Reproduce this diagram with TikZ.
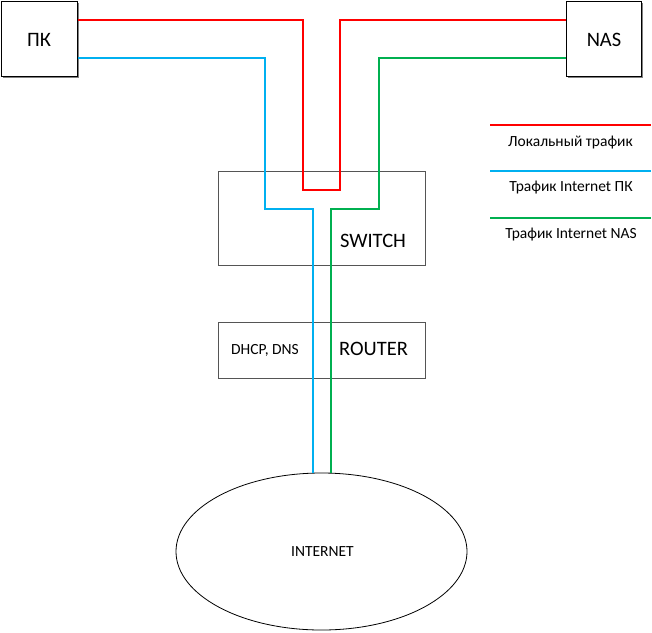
\documentclass[tikz,border=0pt]{standalone}
\usepackage{fontspec}
\setmainfont{Carlito}
\usetikzlibrary{shapes.geometric,shadows}
\definecolor{lred}{HTML}{FF0000}
\definecolor{lblue}{HTML}{00B0F0}
\definecolor{lgreen}{HTML}{00B050}
\definecolor{boxgray}{HTML}{555555}
\tikzset{
  endbox/.style={draw=black,line width=1pt,fill=white,anchor=north west,inner sep=0pt,
    drop shadow={shadow xshift=1.3pt,shadow yshift=-1.3pt,fill=gray,opacity=1}},
  devbox/.style={draw=boxgray,line width=1pt,anchor=north west,inner sep=0pt},
  bigtxt/.style={font=\fontsize{20.5}{24}\selectfont,inner sep=0pt,anchor=base},
  smalltxt/.style={font=\fontsize{15.5}{18}\selectfont,inner sep=0pt,anchor=base},
  wire/.style={line width=2pt},
}
\begin{document}
\begin{tikzpicture}[x=1pt,y=-1pt]
\useasboundingbox (0,0) rectangle (652,632);
% boxes
\node[endbox,minimum width=76pt,minimum height=75pt] (pk) at (1,1) {};
\node[endbox,minimum width=75pt,minimum height=75pt] (nas) at (566,1) {};
\node[devbox,minimum width=207pt,minimum height=94pt] (switch) at (218,171) {};
\node[devbox,minimum width=207pt,minimum height=56pt] (router) at (218,322) {};
\node[draw=black,line width=0.8pt,ellipse,minimum width=291pt,minimum height=157pt,inner sep=0pt] (internet) at (321.5,551.5) {};
% labels
\node[bigtxt] (pklabel) at (39,46.5) {ПК};
\node[bigtxt] (naslabel) at (604,46.5) {NAS};
\node[bigtxt] (switchlabel) at (373,247.5) {SWITCH};
\node[bigtxt] (routerlabel) at (373.5,355.5) {ROUTER};
\node[smalltxt] (dhcplabel) at (265,354.5) {DHCP, DNS};
\node[smalltxt] (internetlabel) at (322.5,556) {INTERNET};
% wires
\draw[wire,lred] (pk.east |- 0,20) -| (302.5,190) -| (340,20) -- (nas.west |- 0,20);
\draw[wire,lblue] (pk.east |- 0,57.5) -| (265,209) -| (312.5,0 |- internet.north);
\draw[wire,lgreen] (nas.west |- 0,57.5) -| (378.5,209) -| (330.5,0 |- internet.north);
% legend
\coordinate (lr1) at (490,125); \coordinate (lr2) at (651,125);
\coordinate (lb1) at (490,171); \coordinate (lb2) at (651,171);
\coordinate (lg1) at (490,217.5); \coordinate (lg2) at (651,217.5);
\draw[wire,lred] (lr1) -- (lr2);
\draw[wire,lblue] (lb1) -- (lb2);
\draw[wire,lgreen] (lg1) -- (lg2);
\node[smalltxt] (legr) at (570.5,146) {Локальный трафик};
\node[smalltxt] (legb) at (571,191.5) {Трафик Internet ПК};
\node[smalltxt] (legg) at (571,238) {Трафик Internet NAS};
\end{tikzpicture}
\end{document}
